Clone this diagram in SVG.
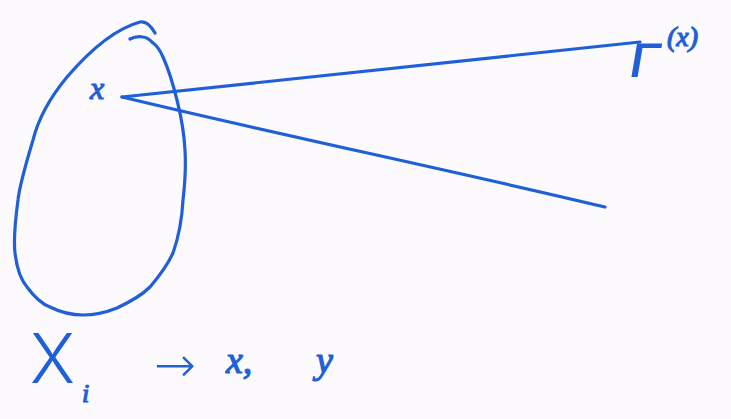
<svg xmlns="http://www.w3.org/2000/svg" width="731" height="419" viewBox="0 0 731 419">
<style>
.ink{fill:none;stroke:#1f5fd8;stroke-width:3.2;stroke-linecap:round;stroke-linejoin:round}
.t{fill:#1f5fd8;font-family:Inter,"Liberation Sans","DejaVu Sans",sans-serif;font-weight:300}
.ti{fill:#1f5fd8;stroke:#1f5fd8;stroke-width:1.2;font-family:"Liberation Serif","DejaVu Serif",serif;font-style:italic}
</style>
<rect width="731" height="419" fill="#fcfafd"/>
<g id="set">
<path class="ink" d="M155,33 C150,24 145,21 140,22 C118,28 92,48 67,77 C48,100 38,120 33,140 C24,170 19,190 18,200 C14,230 14,245 15,253 C17,270 21,280 27,287 C35,298 42,304 50,307 C62,313 72,315 83,315 C96,315 107,312 117,308 C132,301 142,295 150,287 C161,274 168,264 173,253 C179,236 182,219 183,200 C185,183 186,167 185,150 C184,132 181,116 177,100 C173,84 168,68 163,57 C160,50 156,45 153,43 C149,39 146,37 143,37 C138,36 134,37 130,39"/>
</g>
<g id="point-x">
<text class="ti" x="90" y="99" font-size="32">x</text>
</g>
<g id="connectors">
<path class="ink" d="M122,97 L640,42"/>
<path class="ink" d="M122,97 C280,135 450,170 605,207"/>
</g>
<g id="gamma-x">
<text class="t" x="0" y="0" font-size="46" font-weight="500" style="font-weight:500" transform="translate(627,77) scale(1.2,1) skewX(-8)">Γ</text>
<text class="ti" x="667" y="46" font-size="28">(x)</text>
</g>
<g id="caption">
<text class="t" x="30" y="383" font-size="68">X</text>
<text class="ti" x="82" y="402" font-size="26">i</text>
<text class="t" x="154" y="382" font-size="50" style="font-family:'DejaVu Sans',sans-serif">→</text>
<text class="ti" x="226" y="373" font-size="38">x,</text>
<text class="ti" x="316" y="373" font-size="38">y</text>
</g>
</svg>
